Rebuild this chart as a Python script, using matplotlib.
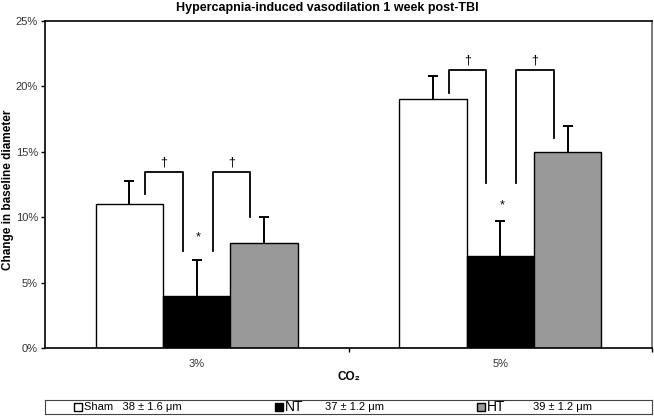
import matplotlib
matplotlib.use("Agg")
import matplotlib.pyplot as plt
from matplotlib.patches import Rectangle
import numpy as np

plt.rcParams['font.family'] = ['Liberation Sans', 'DejaVu Sans']

categories = ["3%", "5%"]
groups = ["Sham", "NT", "HT"]
means = {"Sham": [11, 19], "NT": [4, 7], "HT": [8, 15]}
errors = {"Sham": [1.8, 1.8], "NT": [2.7, 2.7], "HT": [2.0, 1.95]}
colors = {"Sham": "white", "NT": "black", "HT": "#999999"}
legend_labels = ["Sham   38 ± 1.6 μm", "NT", "HT"]
legend_values = ["", "37 ± 1.2 μm", "39 ± 1.2 μm"]
# bracket data: (left bottom, top, right bottom) for Sham-NT and NT-HT
brackets_sham_nt = [(11.77, 13.46, 7.42), (19.5, 21.25, 12.6)]
brackets_nt_ht = [(7.42, 13.46, 10.0), (12.6, 21.25, 16.05)]
star_y = [8.45, 10.9]
yticks = [0, 5, 10, 15, 20, 25]

fig = plt.figure(figsize=(6.54, 4.17), dpi=100)
ax = fig.add_axes([45/654, 1-348/417, 607/654, 327/417])

x = np.arange(len(categories))
w = 0.222
offs = {"Sham": -w, "NT": 0.0, "HT": w}
for g in groups:
    xs = x + offs[g]
    m = np.array(means[g])
    e = np.array(errors[g])
    ax.bar(xs, m, width=w, color=colors[g], edgecolor='black',
           linewidth=1.0, zorder=2)
    ax.vlines(xs, m, m + e, color='black', lw=1.4, zorder=3)
    ax.plot(xs, m + e, ls='none', marker='_', markersize=7, mew=1.4,
            color='black', zorder=3)

d1 = 0.053
d2 = 0.046
for i in range(len(categories)):
    lb, top, rb = brackets_sham_nt[i]
    xl = x[i] + offs["Sham"] + d1
    xr = x[i] + offs["NT"] - d2
    ax.plot([xl, xl, xr, xr], [lb, top, top, rb], color='black', lw=1.3, zorder=4)
    ax.text((xl + xr) / 2, top + 0.25, "†", ha='center', va='bottom', fontsize=9)
    lb, top, rb = brackets_nt_ht[i]
    xl = x[i] + offs["NT"] + d1
    xr = x[i] + offs["HT"] - d2
    ax.plot([xl, xl, xr, xr], [lb, top, top, rb], color='black', lw=1.3, zorder=4)
    ax.text((xl + xr) / 2, top + 0.25, "†", ha='center', va='bottom', fontsize=9)
    ax.text(x[i] + 0.005, star_y[i], "*", ha='center', va='center', fontsize=9)

ax.set_xlim(-0.5, 1.5)
ax.set_ylim(0, 25)
ax.set_yticks(yticks)
ax.set_yticklabels([f"{t}%" for t in yticks], fontsize=8, color='#333333')
ax.set_xticks(x)
ax.set_xticklabels(categories, fontsize=8, color='#333333')
ax.tick_params(axis='x', length=0, pad=8)
ax.set_xticks([0.5, 1.5], minor=True)
ax.tick_params(axis='x', which='minor', length=3, width=1)
ax.tick_params(axis='y', length=3, width=1, pad=2)
for s in ax.spines.values():
    s.set_linewidth(1.2)
ax.spines['right'].set_color('#666666')

ax.set_xlabel("CO₂", fontsize=8.5, fontweight='bold', labelpad=1)
fig.text(8/654, 1-190/417, "Change in baseline diameter", rotation=90,
         ha='center', va='center', fontsize=8.5, fontweight='bold')
fig.text(327/654, 1-8/417, "Hypercapnia-induced vasodilation 1 week post-TBI",
         ha='center', va='center', fontsize=9, fontweight='bold')

# legend box
lax = fig.add_axes([45/654, 1-414/417, 607/654, 14/417])
lax.set_xlim(0, 607)
lax.set_ylim(0, 14)
lax.set_xticks([])
lax.set_yticks([])
for s in lax.spines.values():
    s.set_linewidth(0.8)
    s.set_color('#444444')
sw_x = [29, 230, 432]
txt_x = [39, 240, 442]
val_x = [None, 280, 488]
for i, g in enumerate(groups):
    lax.add_patch(Rectangle((sw_x[i], 3), 8, 8, facecolor=colors[g], edgecolor='black', lw=1))
    fs = 8 if i == 0 else 10
    lax.text(txt_x[i], 7, legend_labels[i], ha='left', va='center', fontsize=fs)
    if legend_values[i]:
        lax.text(val_x[i], 7, legend_values[i], ha='left', va='center', fontsize=8)

fig.savefig("out.png", dpi=100)
